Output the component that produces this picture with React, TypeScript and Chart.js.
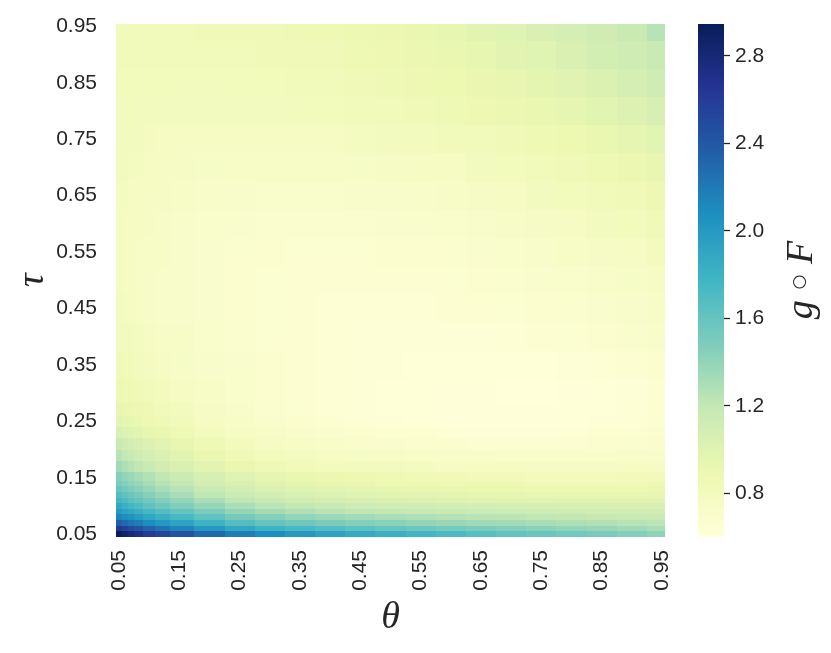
import React, { useEffect, useRef } from 'react';
import { Chart, registerables } from 'chart.js';

Chart.register(...registerables);

// ---- data ----
const thetaValues = [0.05, 0.06, 0.07, 0.08, 0.10, 0.12, 0.15, 0.20, 0.25, 0.30, 0.35, 0.40, 0.45, 0.50, 0.55, 0.60, 0.65, 0.70, 0.75, 0.80, 0.85, 0.90, 0.95];
const tauValues = [0.05, 0.06, 0.07, 0.08, 0.09, 0.10, 0.11, 0.12, 0.13, 0.14, 0.15, 0.17, 0.19, 0.21, 0.23, 0.25, 0.27, 0.30, 0.35, 0.40, 0.45, 0.50, 0.55, 0.60, 0.65, 0.70, 0.75, 0.80, 0.85, 0.90, 0.95];

// g∘F, one row per tau value (columns follow thetaValues)
const gF_tau005 = [2.94, 2.85, 2.78, 2.72, 2.62, 2.53, 2.43, 2.30, 2.18, 2.08, 2.00, 1.93, 1.87, 1.82, 1.77, 1.72, 1.67, 1.62, 1.58, 1.54, 1.50, 1.46, 1.42];
const gF_tau006 = [2.63, 2.56, 2.49, 2.43, 2.33, 2.24, 2.14, 2.01, 1.89, 1.80, 1.74, 1.68, 1.63, 1.59, 1.56, 1.52, 1.49, 1.46, 1.43, 1.40, 1.37, 1.34, 1.31];
const gF_tau007 = [2.36, 2.30, 2.24, 2.18, 2.09, 2.01, 1.92, 1.80, 1.68, 1.60, 1.55, 1.50, 1.46, 1.43, 1.40, 1.37, 1.35, 1.33, 1.31, 1.29, 1.27, 1.25, 1.23];
const gF_tau008 = [2.14, 2.08, 2.03, 1.98, 1.90, 1.82, 1.74, 1.63, 1.52, 1.45, 1.40, 1.36, 1.33, 1.30, 1.28, 1.26, 1.24, 1.23, 1.21, 1.20, 1.18, 1.17, 1.16];
const gF_tau009 = [1.99, 1.93, 1.88, 1.83, 1.75, 1.68, 1.60, 1.50, 1.40, 1.33, 1.29, 1.25, 1.22, 1.20, 1.18, 1.16, 1.15, 1.14, 1.13, 1.12, 1.11, 1.10, 1.10];
const gF_tau010 = [1.88, 1.82, 1.76, 1.71, 1.63, 1.56, 1.48, 1.39, 1.30, 1.24, 1.20, 1.16, 1.13, 1.11, 1.10, 1.09, 1.08, 1.07, 1.06, 1.05, 1.05, 1.04, 1.04];
const gF_tau011 = [1.77, 1.71, 1.65, 1.60, 1.53, 1.46, 1.39, 1.30, 1.22, 1.16, 1.12, 1.09, 1.06, 1.04, 1.03, 1.02, 1.01, 1.00, 1.00, 0.99, 0.99, 0.99, 0.99];
const gF_tau012 = [1.68, 1.62, 1.57, 1.52, 1.45, 1.38, 1.31, 1.22, 1.15, 1.09, 1.05, 1.02, 1.00, 0.98, 0.97, 0.96, 0.95, 0.95, 0.94, 0.94, 0.94, 0.94, 0.94];
const gF_tau013 = [1.58, 1.53, 1.48, 1.44, 1.38, 1.31, 1.25, 1.16, 1.09, 1.03, 1.00, 0.97, 0.95, 0.93, 0.92, 0.91, 0.90, 0.90, 0.89, 0.89, 0.89, 0.89, 0.90];
const gF_tau014 = [1.50, 1.46, 1.42, 1.38, 1.32, 1.26, 1.20, 1.11, 1.04, 0.99, 0.95, 0.93, 0.91, 0.89, 0.88, 0.87, 0.86, 0.86, 0.85, 0.85, 0.85, 0.85, 0.86];
const gF_tau015 = [1.45, 1.40, 1.36, 1.32, 1.27, 1.21, 1.15, 1.07, 1.00, 0.95, 0.92, 0.90, 0.88, 0.86, 0.85, 0.84, 0.83, 0.82, 0.81, 0.81, 0.81, 0.82, 0.83];
const gF_tau017 = [1.34, 1.29, 1.25, 1.21, 1.16, 1.10, 1.04, 0.97, 0.91, 0.86, 0.83, 0.81, 0.80, 0.79, 0.78, 0.77, 0.76, 0.76, 0.75, 0.75, 0.75, 0.76, 0.77];
const gF_tau019 = [1.25, 1.20, 1.16, 1.13, 1.08, 1.03, 0.98, 0.91, 0.85, 0.81, 0.78, 0.76, 0.74, 0.73, 0.72, 0.71, 0.71, 0.70, 0.70, 0.70, 0.70, 0.71, 0.72];
const gF_tau021 = [1.16, 1.12, 1.09, 1.06, 1.02, 0.98, 0.93, 0.86, 0.81, 0.77, 0.74, 0.72, 0.70, 0.69, 0.68, 0.67, 0.66, 0.66, 0.66, 0.66, 0.67, 0.68, 0.69];
const gF_tau023 = [1.05, 1.02, 1.00, 0.98, 0.94, 0.91, 0.87, 0.81, 0.77, 0.73, 0.70, 0.68, 0.67, 0.66, 0.65, 0.64, 0.63, 0.63, 0.63, 0.64, 0.65, 0.66, 0.67];
const gF_tau025 = [0.97, 0.95, 0.94, 0.92, 0.89, 0.86, 0.82, 0.77, 0.73, 0.70, 0.67, 0.65, 0.64, 0.63, 0.62, 0.61, 0.61, 0.61, 0.61, 0.62, 0.63, 0.64, 0.66];
const gF_tau027 = [0.93, 0.91, 0.90, 0.88, 0.86, 0.83, 0.80, 0.75, 0.71, 0.68, 0.66, 0.64, 0.63, 0.62, 0.62, 0.61, 0.61, 0.61, 0.61, 0.62, 0.62, 0.64, 0.65];
const gF_tau030 = [0.88, 0.87, 0.86, 0.84, 0.82, 0.80, 0.77, 0.73, 0.70, 0.67, 0.65, 0.64, 0.63, 0.62, 0.62, 0.61, 0.61, 0.60, 0.60, 0.61, 0.62, 0.63, 0.65];
const gF_tau035 = [0.84, 0.83, 0.82, 0.80, 0.78, 0.76, 0.74, 0.71, 0.69, 0.67, 0.65, 0.64, 0.63, 0.63, 0.62, 0.62, 0.62, 0.62, 0.62, 0.63, 0.64, 0.65, 0.67];
const gF_tau040 = [0.81, 0.80, 0.79, 0.78, 0.76, 0.74, 0.73, 0.70, 0.68, 0.66, 0.65, 0.64, 0.63, 0.63, 0.63, 0.63, 0.63, 0.64, 0.65, 0.66, 0.67, 0.69, 0.71];
const gF_tau045 = [0.79, 0.78, 0.77, 0.76, 0.74, 0.72, 0.71, 0.69, 0.67, 0.66, 0.65, 0.64, 0.64, 0.64, 0.64, 0.65, 0.65, 0.66, 0.67, 0.68, 0.69, 0.71, 0.73];
const gF_tau050 = [0.78, 0.77, 0.76, 0.75, 0.74, 0.72, 0.71, 0.69, 0.67, 0.66, 0.65, 0.65, 0.65, 0.65, 0.65, 0.66, 0.67, 0.68, 0.69, 0.70, 0.72, 0.74, 0.76];
const gF_tau055 = [0.78, 0.77, 0.76, 0.75, 0.74, 0.73, 0.71, 0.69, 0.68, 0.67, 0.66, 0.66, 0.66, 0.67, 0.67, 0.68, 0.69, 0.70, 0.71, 0.73, 0.75, 0.77, 0.80];
const gF_tau060 = [0.78, 0.77, 0.77, 0.76, 0.75, 0.74, 0.72, 0.70, 0.69, 0.68, 0.68, 0.68, 0.68, 0.69, 0.69, 0.70, 0.71, 0.73, 0.75, 0.77, 0.79, 0.81, 0.84];
const gF_tau065 = [0.78, 0.78, 0.77, 0.77, 0.76, 0.75, 0.73, 0.72, 0.71, 0.70, 0.70, 0.70, 0.71, 0.71, 0.72, 0.73, 0.75, 0.77, 0.79, 0.81, 0.83, 0.85, 0.88];
const gF_tau070 = [0.79, 0.79, 0.78, 0.78, 0.77, 0.76, 0.75, 0.74, 0.73, 0.73, 0.73, 0.73, 0.74, 0.75, 0.76, 0.77, 0.79, 0.81, 0.83, 0.85, 0.87, 0.90, 0.93];
const gF_tau075 = [0.80, 0.80, 0.79, 0.79, 0.78, 0.77, 0.77, 0.76, 0.76, 0.76, 0.76, 0.77, 0.78, 0.79, 0.80, 0.82, 0.83, 0.85, 0.87, 0.89, 0.92, 0.95, 0.98];
const gF_tau080 = [0.80, 0.80, 0.80, 0.80, 0.80, 0.79, 0.79, 0.79, 0.79, 0.79, 0.80, 0.81, 0.82, 0.83, 0.84, 0.86, 0.88, 0.90, 0.92, 0.95, 0.98, 1.02, 1.06];
const gF_tau085 = [0.81, 0.81, 0.81, 0.81, 0.81, 0.81, 0.80, 0.80, 0.81, 0.81, 0.82, 0.83, 0.85, 0.86, 0.88, 0.89, 0.91, 0.93, 0.96, 0.99, 1.03, 1.08, 1.13];
const gF_tau090 = [0.82, 0.82, 0.82, 0.82, 0.82, 0.82, 0.82, 0.82, 0.83, 0.84, 0.84, 0.85, 0.87, 0.88, 0.90, 0.92, 0.94, 0.97, 1.00, 1.04, 1.09, 1.13, 1.17];
const gF_tau095 = [0.83, 0.83, 0.83, 0.83, 0.83, 0.83, 0.83, 0.84, 0.84, 0.85, 0.86, 0.87, 0.89, 0.90, 0.92, 0.94, 0.97, 1.00, 1.04, 1.08, 1.12, 1.16, 1.25];

const gFRows = [
  gF_tau005, gF_tau006, gF_tau007, gF_tau008, gF_tau009, gF_tau010, gF_tau011, gF_tau012,
  gF_tau013, gF_tau014, gF_tau015, gF_tau017, gF_tau019, gF_tau021, gF_tau023, gF_tau025,
  gF_tau027, gF_tau030, gF_tau035, gF_tau040, gF_tau045, gF_tau050, gF_tau055, gF_tau060,
  gF_tau065, gF_tau070, gF_tau075, gF_tau080, gF_tau085, gF_tau090, gF_tau095,
];

const axisTickValues = [0.05, 0.15, 0.25, 0.35, 0.45, 0.55, 0.65, 0.75, 0.85, 0.95];
const colorbarTicks = [0.8, 1.2, 1.6, 2.0, 2.4, 2.8];
const colorMin = 0.60;
const colorMax = 2.945;
const axisMin = 0.045;
const axisMax = 0.955;

// ---- YlGnBu colour map ----
const YLGNBU = [
  [255, 255, 217], [237, 248, 177], [199, 233, 180], [127, 205, 187], [65, 182, 196],
  [29, 145, 192], [34, 94, 168], [37, 52, 148], [8, 29, 88],
];
const YLGNBU_HEX = ['#ffffd9', '#edf8b1', '#c7e9b4', '#7fcdbb', '#41b6c4', '#1d91c0', '#225ea8', '#253494', '#081d58'];

function colorFor(v: number): string {
  let t = (v - colorMin) / (colorMax - colorMin);
  t = Math.max(0, Math.min(1, t));
  const s = t * 8;
  const i = Math.min(7, Math.floor(s));
  const f = s - i;
  const a = YLGNBU[i];
  const b = YLGNBU[i + 1];
  const r = Math.round(a[0] + (b[0] - a[0]) * f);
  const g = Math.round(a[1] + (b[1] - a[1]) * f);
  const bl = Math.round(a[2] + (b[2] - a[2]) * f);
  return `rgb(${r},${g},${bl})`;
}

function cellEdges(centers: number[], lo: number, hi: number): number[] {
  const e = [lo];
  for (let i = 0; i < centers.length - 1; i++) e.push((centers[i] + centers[i + 1]) / 2);
  e.push(hi);
  return e;
}

const TEXT = '#262626';
const SANS = '"Liberation Sans", Arial, Helvetica, sans-serif';
const SERIF = '"Liberation Serif", "DejaVu Serif", "Times New Roman", serif';

const heatmapPlugin = {
  id: 'heatmapCells',
  beforeDatasetsDraw(chart: any) {
    const { ctx, scales } = chart;
    const xs = scales.x;
    const ys = scales.y;
    const xe = cellEdges(thetaValues, axisMin, axisMax);
    const ye = cellEdges(tauValues, axisMin, axisMax);
    ctx.save();
    chart.data.datasets.forEach((ds: any, i: number) => {
      ds.data.forEach((p: any, j: number) => {
        const x0 = Math.round(xs.getPixelForValue(xe[j]));
        const x1 = Math.round(xs.getPixelForValue(xe[j + 1]));
        const y0 = Math.round(ys.getPixelForValue(ye[i + 1]));
        const y1 = Math.round(ys.getPixelForValue(ye[i]));
        ctx.fillStyle = colorFor(p.v);
        ctx.fillRect(x0, y0, x1 - x0, y1 - y0);
      });
    });
    ctx.restore();
  },
};

const colorbarLabelPlugin = {
  id: 'colorbarLabel',
  afterDraw(chart: any) {
    const { ctx } = chart;
    const italic = `italic 38px ${SERIF}`;
    const ring = `17px "DejaVu Sans", ${SANS}`;
    const parts = [
      { t: 'g', f: italic, dy: 11 },
      { t: '  ○  ', f: ring, dy: 3 },
      { t: 'F', f: italic, dy: 11 },
    ];
    ctx.save();
    let total = 0;
    const widths = parts.map((p) => { ctx.font = p.f; const w = ctx.measureText(p.t).width; total += w; return w; });
    ctx.translate(121, 280);
    ctx.rotate(-Math.PI / 2);
    ctx.fillStyle = TEXT;
    ctx.textAlign = 'left';
    ctx.textBaseline = 'alphabetic';
    let x = -total / 2;
    parts.forEach((p, k) => {
      ctx.font = p.f;
      ctx.fillText(p.t, x, p.dy);
      x += widths[k];
    });
    ctx.restore();
  },
};

export default function App() {
  const mainRef = useRef<HTMLCanvasElement>(null);
  const barRef = useRef<HTMLCanvasElement>(null);

  useEffect(() => {
    const datasets = tauValues.map((tau, i) => ({
      label: `tau=${tau}`,
      data: thetaValues.map((th, j) => ({ x: th, y: tau, v: gFRows[i][j] })),
      pointRadius: 0,
      showLine: false,
    }));

    const main = new Chart(mainRef.current as HTMLCanvasElement, {
      type: 'scatter',
      data: { datasets },
      plugins: [heatmapPlugin],
      options: {
        responsive: false,
        animation: false,
        events: [],
        layout: { padding: { left: 0, right: 166, top: 18, bottom: 0 } },
        plugins: { legend: { display: false }, tooltip: { enabled: false } },
        scales: {
          x: {
            type: 'linear',
            min: axisMin,
            max: axisMax,
            afterBuildTicks: (s: any) => { s.ticks = axisTickValues.map((v) => ({ value: v })); },
            afterFit: (s: any) => { s.height = 116; },
            grid: { display: false },
            border: { display: false },
            ticks: {
              autoSkip: false,
              minRotation: 90,
              maxRotation: 90,
              padding: 5,
              color: TEXT,
              font: { family: SANS, size: 21 },
              callback: (v: any) => Number(v).toFixed(2),
            },
            title: {
              display: true,
              text: 'θ',
              color: TEXT,
              font: { family: SERIF, size: 38, style: 'italic', lineHeight: 1 },
              padding: { top: 0, bottom: 16 },
            },
          },
          y: {
            type: 'linear',
            min: axisMin,
            max: axisMax,
            afterBuildTicks: (s: any) => { s.ticks = axisTickValues.map((v) => ({ value: v })); },
            afterFit: (s: any) => { s.width = 116; },
            grid: { display: false },
            border: { display: false },
            ticks: {
              autoSkip: false,
              padding: 11,
              color: TEXT,
              font: { family: SANS, size: 21 },
              callback: (v: any) => Number(v).toFixed(2),
            },
            title: {
              display: true,
              text: 'τ',
              color: TEXT,
              font: { family: SERIF, size: 38, style: 'italic', lineHeight: 1 },
              padding: { top: 14, bottom: 0 },
            },
          },
        },
      } as any,
    });

    const bar = new Chart(barRef.current as HTMLCanvasElement, {
      type: 'bar',
      data: {
        labels: ['g∘F'],
        datasets: [{
          data: [[colorMin, colorMax]],
          borderWidth: 0,
          barPercentage: 1,
          categoryPercentage: 1,
          backgroundColor: (c: any) => {
            const ch = c.chart;
            const ys = ch.scales && ch.scales.y;
            if (!ys || !ch.chartArea) return YLGNBU_HEX[0];
            const g = ch.ctx.createLinearGradient(0, ys.getPixelForValue(colorMin), 0, ys.getPixelForValue(colorMax));
            YLGNBU_HEX.forEach((col, k) => g.addColorStop(k / 8, col));
            return g;
          },
        }],
      },
      plugins: [colorbarLabelPlugin],
      options: {
        responsive: false,
        animation: false,
        events: [],
        layout: { padding: { left: 18, right: 0, top: 24, bottom: 116 } },
        plugins: { legend: { display: false }, tooltip: { enabled: false } },
        scales: {
          x: { display: false },
          y: {
            type: 'linear',
            position: 'right',
            min: colorMin,
            max: colorMax,
            afterBuildTicks: (s: any) => { s.ticks = colorbarTicks.map((v) => ({ value: v })); },
            afterFit: (s: any) => { s.width = 107; },
            border: { display: false },
            grid: { drawOnChartArea: false, drawTicks: true, tickLength: 6, tickColor: TEXT, tickWidth: 1.3 },
            ticks: {
              padding: 5,
              color: TEXT,
              font: { family: SANS, size: 21 },
              callback: (v: any) => Number(v).toFixed(1),
            },
          },
        },
      } as any,
    });

    return () => { main.destroy(); bar.destroy(); };
  }, []);

  return (
    <div style={{ position: 'fixed', left: 0, top: 0, width: 831, height: 653, background: '#ffffff' }}>
      <canvas ref={mainRef} width={831} height={653} style={{ position: 'absolute', left: 0, top: 0 }} />
      <canvas ref={barRef} width={151} height={653} style={{ position: 'absolute', left: 680, top: 0 }} />
    </div>
  );
}
